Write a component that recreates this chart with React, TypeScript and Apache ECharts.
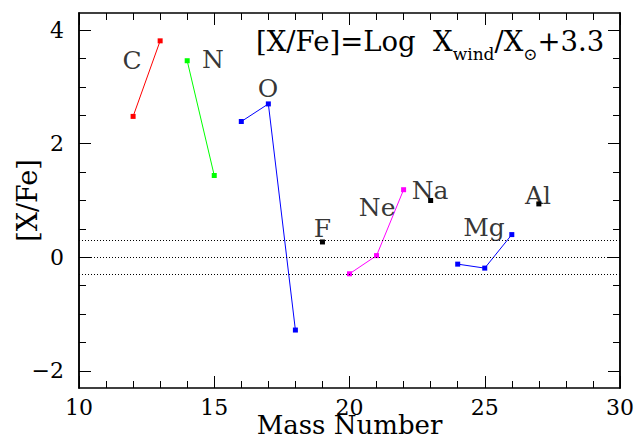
import React, { useEffect, useRef } from "react";
import * as echarts from "echarts";

// ---- data ----
const carbonX = [12, 13];
const carbonY = [2.48, 3.81];
const nitrogenX = [14, 15];
const nitrogenY = [3.46, 1.44];
const oxygenX = [16, 17, 18];
const oxygenY = [2.39, 2.7, -1.28];
const fluorineX = [19];
const fluorineY = [0.27];
const neonX = [20, 21, 22];
const neonY = [-0.29, 0.03, 1.19];
const sodiumX = [23];
const sodiumY = [1.0];
const magnesiumX = [24, 25, 26];
const magnesiumY = [-0.12, -0.19, 0.4];
const aluminumX = [27];
const aluminumY = [0.94];

const elementNames = ["C", "N", "O", "F", "Ne", "Na", "Mg", "Al"];
const labelX = [11.96, 14.95, 16.99, 19.0, 21.02, 22.98, 24.97, 26.97];
const labelY = [3.46, 3.48, 2.97, 0.5, 0.88, 1.18, 0.53, 1.09];

const refLevels = [0.3, 0, -0.3];

const xTicks = [10, 15, 20, 25, 30];
const yMajorTicks = [-2, 0, 2, 4];
const yMinorTicks = [-2, -1.5, -1, -0.5, 0, 0.5, 1, 1.5, 2, 2.5, 3, 3.5, 4];

const FONT = "DejaVu Serif";

const zip = (xs: number[], ys: number[]) => xs.map((x, i) => [x, ys[i]]);

const fmt = (v: number) => (v < 0 ? "\u2212" + Math.abs(v) : String(v));

export default function App() {
  const ref = useRef<HTMLDivElement>(null);
  useEffect(() => {
    const chart = echarts.init(ref.current!, null, { renderer: "svg" });
    const axisLine = { show: true, onZero: false, lineStyle: { color: "#000", width: 1.5 } };
    const lineSeries = (name: string, xs: number[], ys: number[], color: string) => ({
      name,
      type: "line",
      xAxisIndex: 0,
      yAxisIndex: 0,
      data: zip(xs, ys),
      symbol: "rect",
      symbolSize: 5,
      showSymbol: true,
      lineStyle: { color, width: 1 },
      itemStyle: { color },
      z: 3,
    });
    const yAxisBase = (position: string, ticks: number[], len: number, labels: boolean) => ({
      type: "value",
      position,
      min: -2.3,
      max: 4.3,
      axisLine,
      splitLine: { show: false },
      axisTick: {
        show: true,
        inside: true,
        length: len,
        customValues: ticks,
        lineStyle: { color: "#000", width: 1 },
      },
      axisLabel: labels
        ? {
            show: true,
            customValues: yMajorTicks,
            formatter: (v: number) => fmt(v),
            fontFamily: FONT,
            fontSize: 22,
            color: "#000",
            margin: 15,
          }
        : { show: false },
    });
    const xAxisBase = (position: string, labels: boolean) => ({
      type: "value",
      position,
      min: 10,
      max: 30,
      interval: 5,
      axisLine,
      splitLine: { show: false },
      axisTick: { show: true, inside: true, length: 12, lineStyle: { color: "#000", width: 1 } },
      minorTick: { show: true, splitNumber: 5, length: 7, lineStyle: { color: "#000", width: 1 } },
      minorSplitLine: { show: false },
      axisLabel: labels
        ? {
            show: true,
            customValues: xTicks,
            fontFamily: FONT,
            fontSize: 22,
            color: "#000",
            margin: 8,
          }
        : { show: false },
    });

    const option: any = {
      animation: false,
      backgroundColor: "#fff",
      grid: {
        left: 79,
        top: 13,
        right: 17,
        bottom: 49,
        containLabel: false,
        outerBoundsMode: "none",
      },
      xAxis: [
        {
          ...xAxisBase("bottom", true),
          name: "Mass Number",
          nameLocation: "middle",
          nameGap: 24,
          nameMoveOverlap: false,
          nameTextStyle: { fontFamily: FONT, fontSize: 26, color: "#000" },
        },
        xAxisBase("top", false),
      ],
      yAxis: [
        {
          ...yAxisBase("left", yMajorTicks, 12, true),
          name: "[X/Fe]",
          nameLocation: "middle",
          nameRotate: 90,
          nameGap: 38,
          nameMoveOverlap: false,
          nameTextStyle: { fontFamily: FONT, fontSize: 27, color: "#000" },
        },
        yAxisBase("left", yMinorTicks, 7, false),
        yAxisBase("right", yMajorTicks, 12, false),
        yAxisBase("right", yMinorTicks, 7, false),
      ],
      graphic: [
        {
          type: "text",
          x: 256,
          y: 41,
          style: {
            text: "{n|[X/Fe]=Log  X}{s|wind}{n|/X}{s|\u2299}{n|+3.3}",
            verticalAlign: "middle",
            rich: {
              n: { fontFamily: FONT, fontSize: 27.5, lineHeight: 42, fill: "#000" },
              s: { fontFamily: FONT, fontSize: 17, lineHeight: 17, verticalAlign: "bottom", fill: "#000" },
            },
          },
        },
      ],
      series: [
        {
          name: "reference",
          type: "line",
          xAxisIndex: 0,
          yAxisIndex: 0,
          data: [],
          markLine: {
            silent: true,
            symbol: "none",
            label: { show: false },
            lineStyle: { type: [1, 2], color: "#000", width: 1 },
            data: refLevels.map((v) => ({ yAxis: v })),
          },
        },
        lineSeries("C", carbonX, carbonY, "#ff0000"),
        lineSeries("N", nitrogenX, nitrogenY, "#00ff00"),
        lineSeries("O", oxygenX, oxygenY, "#0000ff"),
        lineSeries("F", fluorineX, fluorineY, "#000000"),
        lineSeries("Ne", neonX, neonY, "#ff00ff"),
        lineSeries("Na", sodiumX, sodiumY, "#000000"),
        lineSeries("Mg", magnesiumX, magnesiumY, "#0000ff"),
        lineSeries("Al", aluminumX, aluminumY, "#000000"),
        {
          name: "labels",
          type: "scatter",
          xAxisIndex: 0,
          yAxisIndex: 0,
          symbolSize: 0,
          data: labelX.map((x, i) => [x, labelY[i], elementNames[i]]),
          label: {
            show: true,
            position: "inside",
            formatter: (p: any) => p.value[2],
            fontFamily: FONT,
            fontSize: 25,
            color: "#000",
          },
          z: 4,
        },
      ],
    };
    chart.setOption(option);
    return () => chart.dispose();
  }, []);
  return (
    <div
      ref={ref}
      style={{ position: "fixed", left: 0, top: 0, width: 637, height: 437 }}
    />
  );
}
